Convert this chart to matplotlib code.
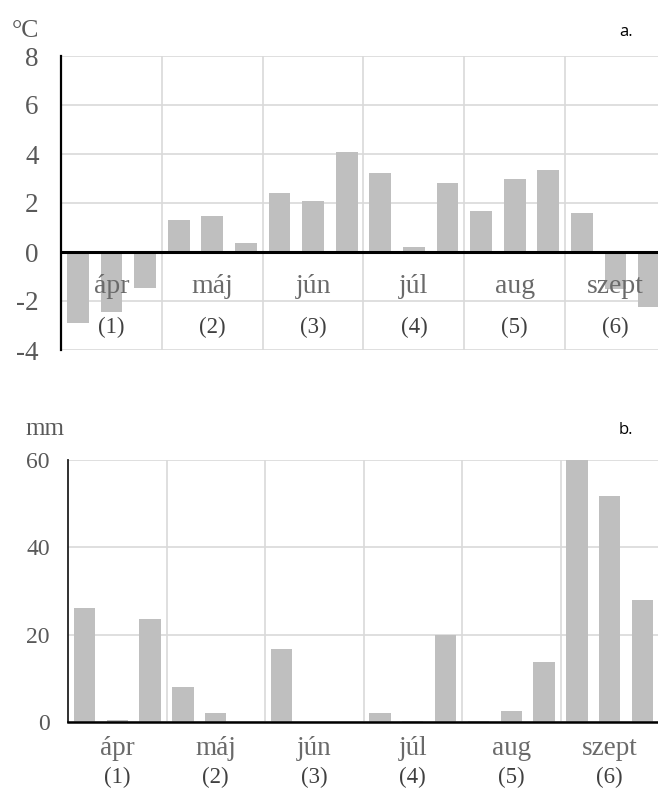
import matplotlib
matplotlib.use("Agg")
import matplotlib.pyplot as plt
import numpy as np

months = ["ápr", "máj", "jún", "júl", "aug", "szept"]
nums = ["(1)", "(2)", "(3)", "(4)", "(5)", "(6)"]

# temperature anomaly (°C), three bars per month
temp_1 = [-2.9, 1.32, 2.39, 3.24, 1.66, 1.6]
temp_2 = [-2.43, 1.46, 2.09, 0.2, 2.97, -1.5]
temp_3 = [-1.45, 0.35, 4.08, 2.8, 3.36, -2.23]

# precipitation (mm), three bars per month
prec_1 = [26.1, 8.1, 16.8, 2.06, 0.15, 60.0]
prec_2 = [0.46, 2.06, 0.0, 0.15, 2.5, 51.7]
prec_3 = [23.5, 0.0, 0.0, 19.95, 13.8, 27.9]

temp_ticks = [-4, -2, 0, 2, 4, 6, 8]
prec_ticks = [0, 20, 40, 60]

W, H = 658, 792
fig = plt.figure(figsize=(W / 100, H / 100), dpi=100)

BAR = "#bfbfbf"
GRID = "#d9d9d9"
TXT = "#595959"
MON = "#6a6a6a"
SERIF = ["Liberation Serif", "DejaVu Serif"]

def px_axes(l, t, r, b):
    return fig.add_axes([l / W, 1 - b / H, (r - l) / W, (b - t) / H])

x = np.arange(len(months))
off = 0.333
bw = 0.215

# ---------- top chart ----------
ax = px_axes(61, 56, 666, 350)
for k, vals in zip([-1, 0, 1], [temp_1, temp_2, temp_3]):
    ax.bar(x + k * off, vals, width=bw, color=BAR, zorder=2)
ax.set_xlim(-0.5, 5.5)
ax.set_ylim(-4, 8)
ax.set_yticks(temp_ticks)
ax.set_yticklabels([str(t) for t in temp_ticks], family=SERIF, fontsize=19.5, color=TXT)
ax.set_xticks(np.arange(0.5, 6, 1))
ax.set_xticklabels([])
ax.tick_params(axis="both", length=0)
ax.tick_params(axis="y", pad=16)
ax.grid(True, color=GRID, lw=1.2, zorder=0)
ax.set_axisbelow(True)
for s in ["top", "right", "bottom"]:
    ax.spines[s].set_visible(False)
ax.spines["left"].set_color("black")
ax.spines["left"].set_linewidth(1.6)
ax.spines["left"].set_zorder(4)
ax.axhline(0, color="black", lw=2.2, zorder=3)
for i in range(len(months)):
    ax.text(x[i], -1.67, months[i], ha="center", va="baseline",
            family=SERIF, fontsize=20, color=MON, zorder=5)
    ax.text(x[i], -3.3, nums[i], ha="center", va="baseline",
            family=SERIF, fontsize=16.5, color="#404040", zorder=5)

# ---------- bottom chart ----------
bx = px_axes(68, 460, 659, 722)
for k, vals in zip([-1, 0, 1], [prec_1, prec_2, prec_3]):
    bx.bar(x + k * off, vals, width=bw, color=BAR, zorder=2)
bx.set_xlim(-0.5, 5.5)
bx.set_ylim(0, 60)
bx.set_yticks(prec_ticks)
bx.set_yticklabels([str(t) for t in prec_ticks], family=SERIF, fontsize=17, color=TXT)
bx.set_xticks(np.arange(0.5, 5, 1))
bx.set_xticklabels([])
bx.tick_params(axis="both", length=0)
bx.tick_params(axis="y", pad=13)
bx.grid(True, color=GRID, lw=1.2, zorder=0)
bx.set_axisbelow(True)
for s in ["top", "right", "bottom"]:
    bx.spines[s].set_visible(False)
bx.spines["left"].set_color("#202020")
bx.spines["left"].set_linewidth(1.3)
bx.axhline(0, color="black", lw=1.8, zorder=3, clip_on=False)
for i in range(len(months)):
    bx.text(x[i], -7.55, months[i], ha="center", va="baseline",
            family=SERIF, fontsize=19.5, color=MON, clip_on=False)
    bx.text(x[i], -14.0, nums[i], ha="center", va="baseline",
            family=SERIF, fontsize=16.5, color="#404040", clip_on=False)

# ---------- labels ----------
fig.text(12 / W, 1 - 37 / H, "°C", family=SERIF, fontsize=18.5, color=TXT, va="baseline")
fig.text(25 / W, 1 - 435 / H, "mm", family=SERIF, fontsize=18, color=TXT, va="baseline")
fig.text(633 / W, 1 - 36 / H, "a.", family=["Open Sans", "DejaVu Sans"], fontsize=12,
         color="black", va="baseline", ha="right")
fig.text(633 / W, 1 - 434 / H, "b.", family=["Open Sans", "DejaVu Sans"], fontsize=12,
         color="black", va="baseline", ha="right")

fig.savefig("out.png", dpi=100)
